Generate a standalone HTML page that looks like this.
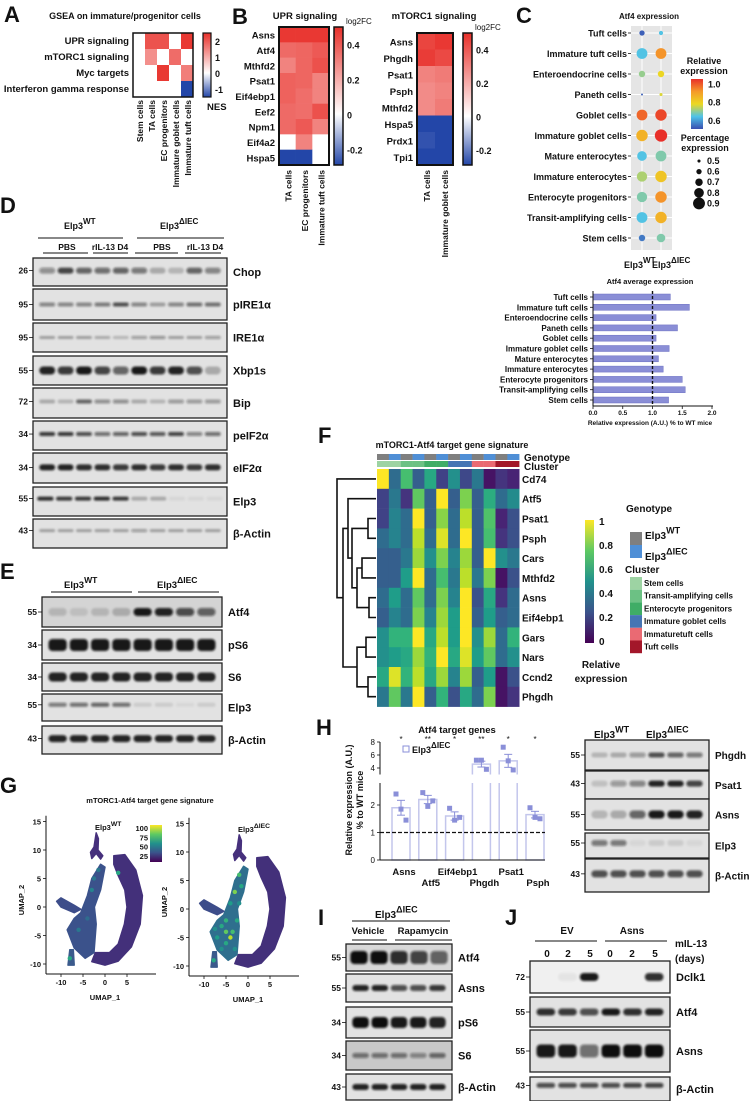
<!DOCTYPE html>
<html><head><meta charset="utf-8"><title>Figure</title>
<style>
html,body{margin:0;padding:0;background:#fff;}
svg{display:block;font-family:"Liberation Sans",Arial,sans-serif;}
</style></head>
<body>
<svg id="fig" xmlns="http://www.w3.org/2000/svg" width="752" height="1101" viewBox="0 0 752 1101">
<defs>
<filter id="blur" x="-20%" y="-80%" width="140%" height="260%"><feGaussianBlur stdDeviation="1.0"/></filter>
<linearGradient id="gA" x1="0" y1="0" x2="0" y2="1"><stop offset="0" stop-color="#e8302a"/><stop offset="0.625" stop-color="#ffffff"/><stop offset="1" stop-color="#2346a8"/></linearGradient>
<linearGradient id="gB" x1="0" y1="0" x2="0" y2="1"><stop offset="0" stop-color="#e8302a"/><stop offset="0.63" stop-color="#ffffff"/><stop offset="1" stop-color="#2346a8"/></linearGradient>
<linearGradient id="gC" x1="0" y1="0" x2="0" y2="1"><stop offset="0" stop-color="#e8302a"/><stop offset="0.25" stop-color="#f59a2a"/><stop offset="0.5" stop-color="#ecd822"/><stop offset="0.75" stop-color="#4fc3e8"/><stop offset="1" stop-color="#3a4fb0"/></linearGradient>
<linearGradient id="gV" x1="0" y1="1" x2="0" y2="0"><stop offset="0" stop-color="#440154"/><stop offset="0.25" stop-color="#3b528b"/><stop offset="0.5" stop-color="#21918c"/><stop offset="0.75" stop-color="#5ec962"/><stop offset="1" stop-color="#fde725"/></linearGradient>
</defs>
</svg>
<script>
const svg=document.getElementById('fig');
const NS='http://www.w3.org/2000/svg';
function mk(tag,attrs,name){
  const e=document.createElementNS(NS,tag);
  for(const k in attrs) e.setAttribute(k,attrs[k]);
  
  
  svg.appendChild(e);
  return e;
}
function T(x,y,s,size,name,anchor,weight,rot){
  const a={x:x,y:y,'font-size':size,'font-weight':weight||'bold','text-anchor':anchor||'start',fill:'#111'};
  if(rot) a.transform='rotate('+rot+' '+x+' '+y+')';
  const e=mk('text',a,name);
  e.textContent=s;
  return e;
}
function TS(x,y,base,sup,size,name,anchor){
  const e=mk('text',{x:x,y:y,'font-size':size,'font-weight':'bold','text-anchor':anchor||'start',fill:'#111'},name);
  const t1=document.createElementNS(NS,'tspan');t1.textContent=base;e.appendChild(t1);
  const t2=document.createElementNS(NS,'tspan');t2.setAttribute('dy',-size*0.55);t2.setAttribute('font-size',size*0.9);t2.textContent=sup;e.appendChild(t2);
  return e;
}
function L(x1,y1,x2,y2,name,w,dash,col){
  const a={x1:x1,y1:y1,x2:x2,y2:y2,stroke:col||'#111','stroke-width':w||1};
  if(dash) a['stroke-dasharray']=dash;
  return mk('line',a,name);
}
function R(x,y,w,h,fill,name,stroke,sw){
  const a={x:x,y:y,width:w,height:h,fill:fill};
  if(stroke){a.stroke=stroke;a['stroke-width']=sw||1;}
  return mk('rect',a,name);
}
function lerpHex(c1,c2,t){
  const p=c=>[parseInt(c.substr(1,2),16),parseInt(c.substr(3,2),16),parseInt(c.substr(5,2),16)];
  const a=p(c1),b=p(c2);
  return 'rgb('+a.map((v,i)=>Math.round(v+(b[i]-v)*t)).join(',')+')';
}
function divColor(v,pos,neg){
  if(v>=0) return lerpHex('#ffffff','#e8302a',Math.min(1,v/pos));
  return lerpHex('#ffffff','#2346a8',Math.min(1,-v/neg));
}
const VIR=['#440154','#482878','#3e4989','#31688e','#26828e','#1f9e89','#35b779','#6ece58','#b5de2b','#fde725'];
function viridis(v){v=Math.max(0,Math.min(1,v));const f=v*9,i=Math.min(8,Math.floor(f));return lerpHex(VIR[i],VIR[i+1],f-i);}
function letter(x,y,s){T(x,y,s,22,'panel-label-'+s.toLowerCase());}

/* ===== Panel A data ===== */
const gseaPathways=['UPR signaling','mTORC1 signaling','Myc targets','Interferon gamma response'];
const gseaCells=['Stem cells','TA cells','EC progenitors','Immature goblet cells','Immature tuft cells'];
const gseaNES=[[0,2.0,2.0,0,2.3],[0,1.3,0,1.7,0],[0,0,2.3,0,1.5],[0,0,0,0,-1.3]];
const gseaTicks=[2,1,0,-1];

/* ===== Panel B data ===== */
const uprGenes=['Asns','Atf4','Mthfd2','Psat1','Eif4ebp1','Eef2','Npm1','Eif4a2','Hspa5'];
const uprCells=['TA cells','EC progenitors','Immature tuft cells'];
const uprFC=[[0.48,0.48,0.48],[0.36,0.37,0.40],[0.30,0.37,0.42],[0.38,0.37,0.30],[0.38,0.35,0.30],[0.36,0.35,0.42],[0.36,0.40,0.30],[0,0.30,0],[-0.3,-0.3,0]];
const mtorGenes=['Asns','Phgdh','Psat1','Psph','Mthfd2','Hspa5','Prdx1','Tpi1'];
const mtorCells=['TA cells','Immature goblet cells'];
const mtorFC=[[0.45,0.48],[0.47,0.44],[0.30,0.32],[0.28,0.30],[0.28,0.32],[-0.30,-0.32],[-0.28,-0.30],[-0.30,-0.30]];
const fcTicks=[0.4,0.2,0,-0.2];

/* ===== Panel C data ===== */
const cCells=['Tuft cells','Immature tuft cells','Enteroendocrine cells','Paneth cells','Goblet cells','Immature goblet cells','Mature enterocytes','Immature enterocytes','Enterocyte progenitors','Transit-amplifying cells','Stem cells'];
const relWT=[0.52,0.64,0.70,0.52,0.98,0.86,0.64,0.72,0.68,0.64,0.55];
const relKO=[0.64,0.92,0.78,0.76,1.02,1.06,0.68,0.82,0.92,0.86,0.68];
const pctWT=[0.6,0.85,0.65,0.45,0.85,0.88,0.8,0.83,0.83,0.85,0.65];
const pctKO=[0.55,0.85,0.65,0.5,0.88,0.92,0.85,0.88,0.88,0.88,0.75];
const avgExpr=[1.30,1.62,1.06,1.42,1.06,1.28,1.10,1.18,1.50,1.55,1.27];
const avgTicks=[0,0.5,1.0,1.5,2.0];

/* ===== Panel F data ===== */
const fGenes=['Cd74','Atf5','Psat1','Psph','Cars','Mthfd2','Asns','Eif4ebp1','Gars','Nars','Ccnd2','Phgdh'];
const fMatrix=[
[1.00,0.35,0.70,0.30,0.60,0.20,0.50,0.22,0.40,0.05,0.15,0.10],
[0.20,0.40,0.15,0.75,0.30,1.00,0.30,0.80,0.30,0.62,0.35,0.48],
[0.20,0.45,0.35,1.00,0.30,0.82,0.35,0.90,0.30,0.72,0.10,0.25],
[0.35,0.45,0.35,0.90,0.35,0.95,0.35,1.00,0.30,0.70,0.15,0.25],
[0.30,0.30,0.40,0.85,0.50,0.80,0.45,0.85,0.30,1.00,0.50,0.40],
[0.30,0.30,0.55,1.00,0.35,0.70,0.40,0.90,0.40,0.80,0.05,0.25],
[0.35,0.55,0.35,0.75,0.35,0.80,0.45,1.00,0.25,0.60,0.15,0.35],
[0.30,0.45,0.35,0.80,0.45,0.85,0.55,1.00,0.30,0.55,0.30,0.35],
[0.50,0.65,0.65,1.00,0.60,0.90,0.55,1.00,0.50,0.85,0.35,0.65],
[0.50,0.55,0.60,0.85,0.65,1.00,0.60,0.95,0.55,0.75,0.35,0.50],
[0.60,0.95,0.65,0.90,0.60,0.85,0.45,0.85,0.30,0.55,0.05,0.25],
[0.40,0.75,0.40,1.00,0.30,0.65,0.25,0.60,0.35,0.80,0.05,0.15]];
const fGenotype=[0,1,0,1,0,1,0,1,0,1,0,1];
const fCluster=[0,0,1,1,2,2,3,3,4,4,5,5];
const clusterNames=['Stem cells','Transit-amplifying cells','Enterocyte progenitors','Immature goblet cells','Immaturetuft cells','Tuft cells'];
const clusterColors=['#9dd3a3','#6cc184','#3fad66','#4575b4','#ea6a73','#a3172a'];
const genoColors=['#7f7f7f','#4f8fd6'];
const fTicks=[1,0.8,0.6,0.4,0.2,0];

/* ===== Panel G data (UMAP outlines in UMAP units) ===== */
const umapTop=[[-2,13],[-1.5,12],[-1.6,10],[-0.5,9],[-1,8.4],[-2,9.4],[-3,8.5],[-3.3,9.6],[-2.5,10.5],[-2.2,12]];
const umapRight=[[2,9],[4.5,9.2],[7,6.5],[8.5,2],[8,-3],[6,-7],[3,-9.5],[0,-10.2],[-3,-9.6],[-2.2,-8],[1,-8],[3,-6.5],[4.4,-3],[5,0],[4.5,3],[3,5.5],[2,7.5]];
const umapMid=[[-1,7.5],[0,7],[-1,3],[-2.4,0],[-2,-3],[-2.5,-8],[-4.5,-9],[-7,-7.2],[-8.6,-4],[-7,-2],[-5.5,-1],[-4,2],[-3,5]];
const umapStreak=[[-11,1],[-10,1.6],[-7,0.3],[-5.5,-0.4],[-7,-1],[-10,0]];
const umapBottom=[[-8,-7.5],[-7.2,-7.5],[-7,-10.2],[-8.4,-10.2]];
const hiWT=[[-3,3,0.45],[-2.5,5,0.4],[3,6,0.6],[-8,-9,0.6],[-6,-4,0.4],[-4,-2,0.35],[-1.5,6.5,0.4]];
const hiKO=[[-2,6,0.7],[-1.5,4,0.6],[-3,3,0.8],[-4,1,0.55],[-6,-3,0.6],[-5,-4,0.75],[-7,-5,0.55],[-4,-5,0.9],[-5,-6,0.6],[-3,-7,0.5],[-6,-7,0.5],[-2.5,-2,0.6],[-7.8,-9,0.6],[-2,1,0.5],[-5,-2,0.65],[-7.5,-3.5,0.5],[-3.5,-4,0.7]];
const umapXTicks=[-10,-5,0,5];
const umapYTicks=[15,10,5,0,-5,-10];
const umapCbTicks=[100,75,50,25];

/* ===== Panel H data ===== */
const hGenes=['Asns','Atf5','Eif4ebp1','Phgdh','Psat1','Psph'];
const hMeans=[1.9,2.2,1.6,4.6,5.1,1.65];
const hSEM=[0.27,0.15,0.15,0.45,1.0,0.12];
const hPoints=[[2.4,1.85,1.45],[2.45,1.95,2.15],[1.88,1.45,1.55],[5.2,5.2,3.8],[7.2,5.1,3.7],[1.9,1.55,1.5]];
const hStars=['*','**','*','**','*','*'];
const hLowTicks=[0,1,2];
const hHighTicks=[4,6,8];

/* ===================== DRAW A ===================== */
letter(4,22,'A');
T(125,19,'GSEA on immature/progenitor cells',9,'gsea-title','middle');
(function(){
  const x0=133,y0=33,cw=12,rh=16;
  gseaPathways.forEach((p,i)=>{
    T(129,y0+rh*i+11,p,9.5,'gsea-row-label','end');
    gseaCells.forEach((c,j)=>{
      R(x0+cw*j,y0+rh*i,cw,rh,divColor(gseaNES[i][j],2.4,1.3),'gsea-cell');
    });
  });
  R(x0,y0,cw*5,rh*4,'none','gsea-heatmap-frame','#111',1.5);
  gseaCells.forEach((c,j)=>T(x0+cw*j+10,100,c,8.5,'gsea-col-label','end','bold',-90));
  const cy=v=>73-v*16;
  R(203,33,8,64,'url(#gA)','gsea-colorbar','#111',1.2);
  gseaTicks.forEach(t=>T(215,cy(t)+4,String(t),9,'gsea-colorbar-tick'));
  T(207,110,'NES',9.5,'gsea-colorbar-title');
})();

/* ===================== DRAW B ===================== */
letter(232,24,'B');
function fcHeat(genes,cells,vals,x0,y0,x1,y1,cbx,title,tx,prefix){
  const cw=(x1-x0)/cells.length,rh=(y1-y0)/genes.length;
  T(tx,19,title,9.5,prefix+'-title','middle');
  genes.forEach((g,i)=>{
    T(x0-4,y0+rh*i+rh/2+4,g,9.5,prefix+'-row-label','end');
    cells.forEach((c,j)=>R(x0+cw*j,y0+rh*i,cw+0.3,rh+0.3,divColor(vals[i][j],0.5,0.3),prefix+'-cell'));
  });
  R(x0,y0,x1-x0,y1-y0,'none',prefix+'-frame','#111',2);
  cells.forEach((c,j)=>T(x0+cw*j+cw/2+4,y1+5,c,8.5,prefix+'-col-label','end','bold',-90));
  const top=0.5,bot=-0.29;
  const cy=v=>y0+(top-v)/(top-bot)*(y1-y0);
  R(cbx,y0,9,y1-y0,'url(#gB)',prefix+'-colorbar','#111',1.5);
  fcTicks.forEach(t=>T(cbx+13,cy(t)+4,String(t),9,prefix+'-colorbar-tick'));
  T(cbx+12,y0-3,'log2FC',8,prefix+'-colorbar-title','start','normal');
}
fcHeat(uprGenes,uprCells,uprFC,279,27,329,165,334,'UPR signaling',305,'upr');
fcHeat(mtorGenes,mtorCells,mtorFC,417,33,453,165,463,'mTORC1 signaling',434,'mtorc1');

/* ===================== DRAW C (dot plot) ===================== */
letter(516,23,'C');
T(649,19,'Atf4 expression',8,'dotplot-title','middle');
R(631,26,41,224,'#e5e5e5','dotplot-panel');
(function(){
  const ry=i=>33+i*20.5;
  const relCol=v=>{const t=(v-0.5)/0.55;const st=['#3a4fb0','#4fc3e8','#ecd822','#f59a2a','#e8302a'];const f=Math.max(0,Math.min(0.999,t))*4,k=Math.floor(f);return lerpHex(st[k],st[k+1],f-k);};
  const rad=p=>1+(p-0.45)*11;
  L(642,26,642,250,'dotplot-grid-wt',1,null,'#fff');
  L(661,26,661,250,'dotplot-grid-ko',1,null,'#fff');
  cCells.forEach((c,i)=>{
    L(631,ry(i),672,ry(i),'dotplot-grid-row',1,null,'#fff');
    T(627,ry(i)+3.5,c,9,'dotplot-row-label','end');
    L(628,ry(i),631,ry(i),'dotplot-tick',0.8);
    mk('circle',{cx:642,cy:ry(i),r:rad(pctWT[i]),fill:relCol(relWT[i])},'dot-wt');
    mk('circle',{cx:661,cy:ry(i),r:rad(pctKO[i]),fill:relCol(relKO[i])},'dot-ko');
  });
  TS(624,268,'Elp3','WT',9,'dotplot-x-wt');
  TS(652,268,'Elp3','ΔIEC',9,'dotplot-x-ko');
  T(704,64,'Relative',9,'dotplot-color-legend-title','middle');
  T(704,74,'expression',9,'dotplot-color-legend-title','middle');
  R(691,79,12,50,'url(#gC)','dotplot-colorbar');
  const cby=v=>79+(1.05-v)/0.55*50;
  [1.0,0.8,0.6].forEach(t=>T(708,cby(t)+4,t.toFixed(1),9,'dotplot-colorbar-tick'));
  T(705,141,'Percentage',9,'dotplot-size-legend-title','middle');
  T(705,151,'expression',9,'dotplot-size-legend-title','middle');
  [0.5,0.6,0.7,0.8,0.9].forEach((p,k)=>{
    mk('circle',{cx:699,cy:161+k*10.6,r:rad(p),fill:'#111'},'dotplot-size-legend-dot');
    T(707,164+k*10.6,String(p),9,'dotplot-size-legend-label');
  });
})();

/* ===================== C bar chart ===================== */
(function(){
  const xs=v=>593+v*59.5, ys=i=>297+i*10.3;
  T(650,284,'Atf4 average expression',7.5,'avg-bar-title','middle');
  cCells.forEach((c,i)=>{
    T(588,ys(i)+3,c,8,'avg-bar-label','end');
    L(590,ys(i),593,ys(i),'avg-bar-ytick',0.8);
    R(xs(0),ys(i)-3,xs(avgExpr[i])-xs(0),6,'#8a8ed6','avg-bar','#6c70c2',0.5);
  });
  L(593,291,593,406,'avg-bar-y-axis',1);
  L(593,406,713,406,'avg-bar-x-axis',1);
  avgTicks.forEach(t=>{L(xs(t),406,xs(t),409,'avg-bar-xtick',0.8);T(xs(t),415,t.toFixed(1),6.5,'avg-bar-xtick-label','middle');});
  L(xs(1),291,xs(1),406,'avg-bar-reference-line',1.4,'3,2');
  T(650,425,'Relative expression (A.U.) % to WT mice',6.5,'avg-bar-x-title','middle');
})();

/* ===================== Blot helper ===================== */
function blot(x,y,w,h,lanes,label,mw,opts){
  opts=opts||{};
  R(x,y,w,h,opts.bg||'#e2e2e2','blot-'+label,'#222',1.3);
  const n=lanes.length,pad=opts.pad||5,lw=(w-2*pad)/n;
  const by=y+h*(opts.pos||0.5),bh=opts.bh||h*0.28;
  lanes.forEach((v,i)=>{
    if(v<=0.01) return;
    const bw=lw*0.86;
    mk('rect',{x:x+pad+lw*(i+0.5)-bw/2,y:by-bh/2,width:bw,height:bh,rx:Math.min(bh/2,4),fill:'#111','fill-opacity':v,filter:'url(#blur)'},'band-'+label);
  });
  T(x+w+6,y+h/2+4,label,opts.fs||11,'blot-label-'+label);
  if(mw){T(x-5,by+3,mw,8.5,'mw-marker','end');L(x-4,by,x,by,'mw-tick',0.8);}
}

/* ===================== D ===================== */
letter(0,213,'D');
TS(64,229,'Elp3','WT',9,'d-header-wt');
TS(160,229,'Elp3','ΔIEC',9,'d-header-ko');
L(38,238,123,238,'d-group-line-wt');L(137,238,224,238,'d-group-line-ko');
[['PBS',67],['rIL-13 D4',110],['PBS',162],['rIL-13 D4',205]].forEach(a=>T(a[1],250,a[0],8.5,'d-treatment-label','middle'));
[[43,88],[93,128],[135,178],[185,221]].forEach(a=>L(a[0],253,a[1],253,'d-treatment-line'));
blot(33,258,194,28,[0.4,0.75,0.6,0.55,0.6,0.5,0.25,0.2,0.6,0.45],'Chop','26',{pos:0.45,bh:6});
blot(33,289,194,31,[0.45,0.45,0.45,0.5,0.7,0.45,0.3,0.45,0.55,0.55],'pIRE1α','95',{bh:4});
blot(33,323,194,29,[0.3,0.3,0.3,0.25,0.2,0.35,0.4,0.3,0.3,0.35],'IRE1α','95',{bh:3});
blot(33,356,194,29,[0.9,0.8,0.95,0.75,0.6,0.95,0.8,0.9,0.7,0.25],'Xbp1s','55',{bh:8});
blot(33,388,194,30,[0.25,0.2,0.6,0.4,0.4,0.25,0.2,0.35,0.35,0.35],'Bip','72',{bh:4,pos:0.45});
blot(33,421,194,29,[0.8,0.8,0.7,0.55,0.6,0.7,0.65,0.75,0.45,0.55],'peIF2α','34',{bh:4,pos:0.45});
blot(33,453,194,30,[0.9,0.9,0.85,0.85,0.8,0.85,0.8,0.85,0.8,0.85],'eIF2α','34',{bh:6,pos:0.48});
blot(33,487,194,29,[0.85,0.8,0.8,0.85,0.8,0.25,0.25,0.05,0.05,0.05],'Elp3','55',{bh:4,pos:0.4,pad:3});
blot(33,519,194,29,[0.3,0.3,0.3,0.3,0.3,0.35,0.3,0.3,0.3,0.3],'β-Actin','43',{bh:3,pos:0.4});

/* ===================== E ===================== */
letter(0,579,'E');
TS(64,588,'Elp3','WT',9.5,'e-header-wt');
TS(157,588,'Elp3','ΔIEC',9.5,'e-header-ko');
L(51,592,132,592,'e-group-line-wt');L(138,592,219,592,'e-group-line-ko');
blot(42,597,180,30,[0.15,0.1,0.15,0.2,0.95,0.9,0.7,0.6],'Atf4','55',{bg:'#d4d4d4',bh:8});
blot(42,630,180,30,[0.95,0.95,0.95,0.95,0.95,0.95,0.95,0.95],'pS6','34',{bh:12});
blot(42,663,180,28,[0.9,0.9,0.9,0.9,0.9,0.9,0.9,0.9],'S6','34',{bh:9});
blot(42,694,180,27,[0.5,0.55,0.6,0.55,0.1,0.1,0.05,0.1],'Elp3','55',{bh:4,pos:0.4});
blot(42,726,180,28,[0.9,0.9,0.9,0.9,0.9,0.9,0.9,0.9],'β-Actin','43',{bh:7,pos:0.45});

/* ===================== F ===================== */
letter(318,443,'F');
T(452,448,'mTORC1-Atf4 target gene signature',9,'f-title','middle');
(function(){
  const x0=377,cw=11.85,y0=469,rh=19.8;
  fGenotype.forEach((g,j)=>R(x0+cw*j,454,cw+0.2,6,genoColors[g],'f-genotype-annotation'));
  fCluster.forEach((c,j)=>R(x0+cw*j,461,cw+0.2,6,clusterColors[c],'f-cluster-annotation'));
  T(524,461,'Genotype',10,'f-genotype-annotation-label');
  T(524,470,'Cluster',10,'f-cluster-annotation-label');
  fGenes.forEach((g,i)=>{
    fMatrix[i].forEach((v,j)=>R(x0+cw*j,y0+rh*i,cw+0.3,rh+0.3,viridis(v),'f-heatmap-cell'));
    T(522,y0+rh*i+rh/2+4,g,10,'f-row-label');
  });
  const ry=i=>y0+rh*i+rh/2;
  const nodes={};
  function j(a,b,x,name){
    const ya=typeof a==='number'?ry(a):nodes[a].y, xa=typeof a==='number'?376:nodes[a].x;
    const yb=typeof b==='number'?ry(b):nodes[b].y, xb=typeof b==='number'?376:nodes[b].x;
    mk('polyline',{points:xa+','+ya+' '+x+','+ya+' '+x+','+yb+' '+xb+','+yb,fill:'none',stroke:'#111','stroke-width':1.6},'f-dendrogram-link');
    nodes[name]={x:x,y:(ya+yb)/2};
  }
  j(2,3,368,'a');j(4,5,362,'c');j(6,7,369,'b');j('c','b',357,'d');j('a','d',352,'e');j(1,'e',348,'f');
  j(8,9,366,'g');j(10,11,368,'h');j('g','h',357,'k');j('f','k',343,'m');j(0,'m',337,'root');
  R(585,520,9,123,'url(#gV)','f-colorbar');
  fTicks.forEach(t=>T(599,641-t*120+4,String(t),10,'f-colorbar-tick'));
  T(601,668,'Relative',10,'f-colorbar-title','middle');
  T(601,682,'expression',10,'f-colorbar-title','middle');
  T(626,512,'Genotype',10,'f-legend-genotype-title');
  R(630,532,12,13,genoColors[0],'f-legend-genotype-swatch');
  R(630,545,12,13,genoColors[1],'f-legend-genotype-swatch');
  TS(645,539,'Elp3','WT',10,'f-legend-genotype-wt');
  TS(645,560,'Elp3','ΔIEC',10,'f-legend-genotype-ko');
  T(625,573,'Cluster',10,'f-legend-cluster-title');
  clusterNames.forEach((c,k)=>{
    R(630,577+k*12.7,12,12.7,clusterColors[k],'f-legend-cluster-swatch');
    T(644,586+k*12.7,c,8,'f-legend-cluster-label');
  });
})();

/* ===================== G ===================== */
letter(0,793,'G');
T(150,803,'mTORC1-Atf4 target gene signature',7.5,'g-title','middle');
function umap(ax,ox,oy,mid,hi,prefix,sup){
  const xs=u=>ox+u*4.4, ys=v=>oy-v*5.7;
  const poly=(pts,fill,name)=>mk('polygon',{points:pts.map(p=>xs(p[0]).toFixed(1)+','+ys(p[1]).toFixed(1)).join(' '),fill:fill,stroke:fill,'stroke-width':1.5,'stroke-linejoin':'round'},name);
  poly(umapRight,'#43307a',prefix+'-cluster-right');
  poly(umapTop,'#46307c',prefix+'-cluster-top');
  poly(umapMid,mid,prefix+'-cluster-middle');
  poly(umapStreak,'#3d4d8a',prefix+'-cluster-streak');
  poly(umapBottom,'#3b5a8c',prefix+'-cluster-bottom');
  hi.forEach(p=>mk('circle',{cx:xs(p[0]),cy:ys(p[1]),r:2.2,fill:viridis(p[2])},prefix+'-cell-point'));
  L(ax,ys(16),ax,oy+67,prefix+'-y-axis',1);
  L(ax,oy+67,ax+110,oy+67,prefix+'-x-axis',1);
  umapYTicks.forEach(t=>{L(ax-3,ys(t),ax,ys(t),prefix+'-ytick',0.8);T(ax-5,ys(t)+3,String(t),7.5,prefix+'-ytick-label','end');});
  umapXTicks.forEach(t=>{L(xs(t),oy+67,xs(t),oy+70,prefix+'-xtick',0.8);T(xs(t),oy+78,String(t),7.5,prefix+'-xtick-label','middle');});
  T(ox,oy+93,'UMAP_1',7.5,prefix+'-x-title','middle');
  T(ax-22,oy-7,'UMAP_2',7.5,prefix+'-y-title','middle','bold',-90);
  TS(ox-10,oy-77,'Elp3',sup,7.5,prefix+'-genotype-label');
}
umap(46,105,907,'#3b528b',hiWT,'umap-wt','WT');
umap(189,248,909,'#2f6f8e',hiKO,'umap-ko','ΔIEC');
R(150,825,12,37,'url(#gV)','umap-colorbar');
umapCbTicks.forEach((t,k)=>T(148,831+k*9.3,String(t),7.5,'umap-colorbar-tick','end'));

/* ===================== H chart ===================== */
letter(316,735,'H');
T(457,733,'Atf4 target genes',9.5,'h-title','middle');
(function(){
  const ax=380;
  const yLow=v=>860-v*27.5, yHigh=v=>768-(v-4)*6.5;
  const ys=v=>v<=2.8?yLow(v):yHigh(v);
  const xs=i=>401+i*26.8;
  L(ax,yLow(0),ax,yLow(2.8),'h-y-axis-lower',1);
  L(ax,yHigh(3),ax,yHigh(8),'h-y-axis-upper',1);
  hLowTicks.forEach(t=>{L(ax-3,yLow(t),ax,yLow(t),'h-ytick',0.8);T(ax-5,yLow(t)+3,String(t),8,'h-ytick-label','end','normal');});
  hHighTicks.forEach(t=>{L(ax-3,yHigh(t),ax,yHigh(t),'h-ytick',0.8);T(ax-5,yHigh(t)+3,String(t),8,'h-ytick-label','end','normal');});
  T(352,800,'Relative expression (A.U.)',9,'h-y-title','middle','bold',-90);
  T(363,800,'% to WT mice',9,'h-y-title','middle','bold',-90);
  hGenes.forEach((g,i)=>{
    const cx=xs(i),w=18,m=hMeans[i];
    const bc='#c3c6ec';
    if(m<=2.8){R(cx-w/2,yLow(m),w,yLow(0)-yLow(m),'#fff','h-bar',bc,1.5);}
    else{
      L(cx-w/2,yLow(0),cx-w/2,yLow(2.8),'h-bar-side',1.5,null,bc);L(cx+w/2,yLow(0),cx+w/2,yLow(2.8),'h-bar-side',1.5,null,bc);
      mk('polyline',{points:(cx-w/2)+','+yHigh(3)+' '+(cx-w/2)+','+yHigh(m)+' '+(cx+w/2)+','+yHigh(m)+' '+(cx+w/2)+','+yHigh(3),fill:'none',stroke:bc,'stroke-width':1.5},'h-bar-upper');
    }
    const e1=ys(m+hSEM[i]),e0=ys(m-hSEM[i]);
    L(cx,e0,cx,e1,'h-error-bar',1,null,'#8a8fd8');L(cx-4,e1,cx+4,e1,'h-error-cap',1,null,'#8a8fd8');L(cx-4,e0,cx+4,e0,'h-error-cap',1,null,'#8a8fd8');
    hPoints[i].forEach((p,k)=>R(cx+(k-1)*5-2.5,ys(p)-2.5,5,5,'#8a8fd8','h-data-point'));
    T(cx,742,hStars[i],8,'h-significance','middle','normal');
    T(cx+3,i%2?886:875,g,9.5,'h-x-label','middle');
  });
  L(ax,860,545,860,'h-x-axis',1);
  L(ax,832.5,545,832.5,'h-reference-line',1.2,'4,2');
  R(403,746,6,6,'#fff','h-legend-swatch','#8a8fd8',1);
  TS(412,753,'Elp3','ΔIEC',9,'h-legend-label');
})();

/* ===================== H blots ===================== */
TS(594,738,'Elp3','WT',10,'h-blot-header-wt');
TS(646,738,'Elp3','ΔIEC',10,'h-blot-header-ko');
L(591,745,629,745,'h-group-line-wt');L(636,745,707,745,'h-group-line-ko');
blot(585,740,124,30,[0.2,0.25,0.35,0.7,0.6,0.5],'Phgdh','55',{bh:5,fs:10});
blot(585,771,124,28,[0.15,0.35,0.45,0.9,0.9,0.75],'Psat1','43',{bh:6,pos:0.45,fs:10});
blot(585,799,124,31,[0.2,0.25,0.6,0.95,0.95,0.9],'Asns','55',{bh:8,fs:10});
blot(585,833,124,25,[0.5,0.5,0.05,0.1,0.1,0.05],'Elp3','55',{bh:6,pos:0.4,fs:10});
blot(585,859,124,33,[0.7,0.7,0.7,0.7,0.7,0.7],'β-Actin','43',{bh:7,pos:0.45,fs:10});

/* ===================== I ===================== */
letter(318,925,'I');
TS(375,918,'Elp3','ΔIEC',10,'i-header');
L(352,921,450,921,'i-group-line');
T(368,934,'Vehicle',9.5,'i-vehicle-label','middle');
T(423,934,'Rapamycin',9.5,'i-rapamycin-label','middle');
L(352,940,387,940,'i-vehicle-line');L(395,940,452,940,'i-rapamycin-line');
blot(346,944,106,27,[1,1,0.85,0.75,0.6],'Atf4','55',{bh:13,pad:3,bg:'#d8d8d8'});
blot(346,974,106,28,[0.9,0.9,0.7,0.7,0.8],'Asns','55',{bh:6});
blot(346,1007,106,31,[1,1,0.95,0.95,0.9],'pS6','34',{bh:11});
blot(346,1041,106,29,[0.5,0.5,0.5,0.4,0.55],'S6','34',{bh:5,bg:'#c8c8c8'});
blot(346,1074,106,26,[0.9,0.9,0.9,0.9,0.9],'β-Actin','43',{bh:6});

/* ===================== J ===================== */
letter(505,925,'J');
T(567,934,'EV',10,'j-ev-label','middle');
T(632,934,'Asns',10,'j-asns-label','middle');
L(535,941,597,941,'j-ev-line');L(605,941,667,941,'j-asns-line');
T(675,947,'mIL-13',10,'j-treatment-label');
T(675,962,'(days)',10,'j-treatment-unit');
[['0',547],['2',568],['5',590],['0',610],['2',632],['5',655]].forEach(a=>T(a[1],957,a[0],10,'j-day-label','middle'));
blot(530,961,140,32,[0,0.05,0.95,0,0,0.85],'Dclk1','72',{bh:8,bg:'#f0f0f0'});
blot(530,997,140,30,[0.85,0.8,0.7,0.95,0.85,0.9],'Atf4','55',{bh:7});
blot(530,1030,140,42,[0.95,0.95,0.55,1,1,1],'Asns','55',{bh:13});
blot(530,1077,140,24,[0.7,0.7,0.7,0.7,0.75,0.75],'β-Actin','43',{bh:5,pos:0.35});
</script>
</body></html>
